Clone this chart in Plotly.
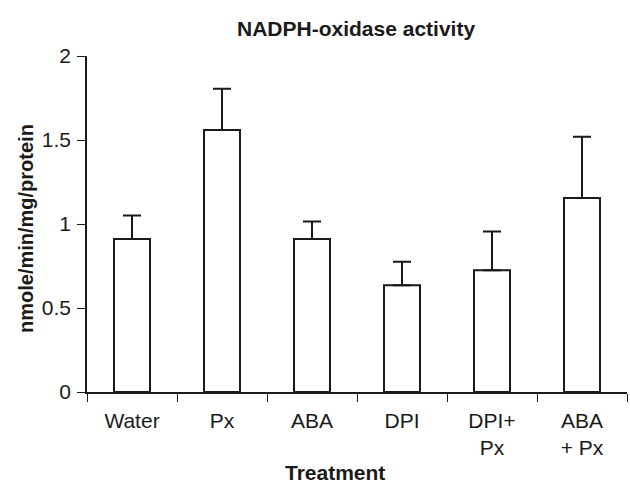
import plotly.graph_objects as go

categories = ["Water", "Px", "ABA", "DPI", "DPI+<br>Px", "ABA<br>+ Px"]
activity = [0.91, 1.56, 0.91, 0.635, 0.725, 1.155]
error_up = [0.14, 0.245, 0.105, 0.14, 0.23, 0.365]
y_ticks = [0, 0.5, 1, 1.5, 2]
y_tick_labels = ["0", "0.5", "1", "1.5", "2"]

FONT = "Liberation Sans, Arial, Helvetica, sans-serif"
FS = 21
INK = "#1a1a1a"

fig = go.Figure()
fig.add_trace(go.Bar(
    x=categories,
    y=activity,
    width=0.4,
    marker=dict(color="white", line=dict(color=INK, width=2)),
    error_y=dict(type="data", array=error_up, arrayminus=[0] * len(error_up),
                 symmetric=False, color=INK, thickness=2, width=9),
    showlegend=False,
))

W, H = 630, 487
L, R, T, B = 87, 3, 56, 95
plot_w = W - L - R
plot_h = H - T - B


def py(pixel_y):
    return (H - B - pixel_y) / plot_h


def px(pixel_x):
    return (pixel_x - L) / plot_w


fig.update_layout(
    width=W, height=H,
    margin=dict(l=L, r=R, t=T, b=B, autoexpand=False),
    paper_bgcolor="white", plot_bgcolor="white",
    font=dict(family=FONT, size=FS, color=INK),
    xaxis=dict(
        type="category", range=[-0.5, 5.5],
        showline=True, linecolor=INK, linewidth=1.5,
        ticks="outside", tickson="boundaries", ticklen=8, tickwidth=1.3, tickcolor=INK,
        showgrid=False, zeroline=False,
        tickfont=dict(family=FONT, size=FS, color=INK),
        ticklabelstandoff=9,
        automargin=False,
    ),
    yaxis=dict(
        range=[0, 2], tickvals=y_ticks, ticktext=y_tick_labels,
        showline=True, linecolor=INK, linewidth=1.5,
        ticks="outside", ticklen=8, tickwidth=1.3, tickcolor=INK,
        showgrid=False, zeroline=False,
        tickfont=dict(family=FONT, size=FS, color=INK),
        ticklabelstandoff=2,
        automargin=False,
    ),
    annotations=[
        dict(text="<b>NADPH-oxidase activity</b>", xref="paper", yref="paper",
             x=px(356), y=py(28), showarrow=False, borderpad=0,
             font=dict(family=FONT, size=FS, color=INK),
             xanchor="center", yanchor="middle"),
        dict(text="<b>Treatment</b>", xref="paper", yref="paper",
             x=px(335), y=py(472), showarrow=False, borderpad=0,
             font=dict(family=FONT, size=FS, color=INK),
             xanchor="center", yanchor="middle"),
        dict(text="<b>nmole/min/mg/protein</b>", xref="paper", yref="paper",
             x=px(26), y=py(229), textangle=-90, borderpad=0,
             showarrow=False, font=dict(family=FONT, size=20, color=INK),
             xanchor="center", yanchor="middle"),
    ],
)

fig.write_html("out.html",
               config={"displayModeBar": False},
               post_script="document.body.style.margin='0';document.body.style.padding='0';")
